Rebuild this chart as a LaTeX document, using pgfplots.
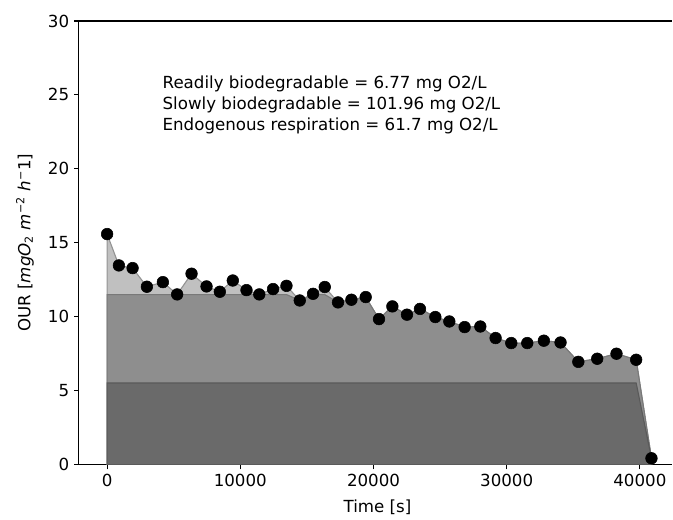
\documentclass[border=0pt]{standalone}
\usepackage{fontspec}
\setmainfont{DejaVu Sans}
\usepackage{pgfplots}
\usepackage{pgfplotstable}
\pgfplotsset{compat=1.18}
\definecolor{lightfill}{RGB}{192,192,192}
\definecolor{midfill}{RGB}{142,142,142}
\definecolor{darkfill}{RGB}{106,106,106}
\pgfplotstableread{
x y m d
0 15.59 11.5 5.52
885 13.47 11.5 5.52
1913 13.29 11.5 5.52
2986 12.03 11.5 5.52
4186 12.34 11.5 5.52
5259 11.51 11.5 5.52
6339 12.91 11.5 5.52
7464 12.05 11.5 5.52
8462 11.69 11.5 5.52
9437 12.45 11.5 5.52
10465 11.80 11.5 5.52
11425 11.51 11.5 5.52
12460 11.87 11.5 5.52
13466 12.09 11.5 5.52
14464 11.10 11.10 5.52
15462 11.55 11.5 5.52
16340 12.01 11.5 5.52
17337 10.97 10.97 5.52
18342 11.15 11.15 5.52
19415 11.33 11.33 5.52
20413 9.84 9.84 5.52
21418 10.70 10.70 5.52
22513 10.14 10.14 5.52
23489 10.53 10.53 5.52
24643 9.98 9.98 5.52
25694 9.68 9.68 5.52
26842 9.30 9.30 5.52
28020 9.34 9.34 5.52
29168 8.56 8.56 5.52
30345 8.22 8.22 5.52
31545 8.22 8.22 5.52
32791 8.38 8.38 5.52
34044 8.26 8.26 5.52
35379 6.95 6.95 5.52
36797 7.16 7.16 5.52
38244 7.50 7.50 5.52
39722 7.09 7.09 5.52
40870 0.43 0.43 0.43
}\datatable
\begin{document}
\begin{tikzpicture}
\begin{axis}[
  name=ax,
  scale only axis,
  width=427.7pt, height=319.7pt,
  xmin=-2116, xmax=42446,
  ymin=0, ymax=30,
  axis x line=box, axis y line=left,
  axis line style={line width=0.8pt, -},
  xtick={0,10000,20000,30000,40000},
  ytick={0,5,...,30},
  scaled x ticks=false,
  xticklabel style={/pgf/number format/.cd, fixed, 1000 sep={}},
  /pgf/number format/assume math mode=true,
  tick align=outside,
  xtick pos=left, ytick pos=left,
  major tick length=3.5pt,
  tick style={line width=0.8pt, black},
  tick label style={font=\fontsize{12}{14}\selectfont},
  every axis x label/.style={at={(axis description cs:0.503,-0.0968)}, anchor=center},
  every axis y label/.style={at={(axis description cs:-0.0909,0.5)}, rotate=90, anchor=center},
  label style={font=\fontsize{12}{14}\selectfont},
  xlabel={Time [s]},
  ylabel={OUR [\textit{mgO}\textsubscript{2} \textit{m}\textsuperscript{−2} \textit{h}\textsuperscript{−}1]},
  clip=true,
]
\addplot[fill=lightfill, draw=gray!85, line width=0.8pt] table[x=x, y=y] {\datatable} \closedcycle;
\addplot[fill=midfill, draw=gray!95!black, line width=0.8pt] table[x=x, y=m] {\datatable} \closedcycle;
\addplot[fill=darkfill, draw=darkfill!85!black, line width=0.8pt] table[x=x, y=d] {\datatable} \closedcycle;
\addplot[only marks, mark=*, mark size=4.2pt, black] table[x=x, y=y] {\datatable};
\node[anchor=base west, inner sep=0, font=\fontsize{12}{14}\selectfont] at (axis cs:4150,25.45) {Readily biodegradable = 6.77 mg O2/L};
\node[anchor=base west, inner sep=0, font=\fontsize{12}{14}\selectfont] at (axis cs:4150,24.03) {Slowly biodegradable = 101.96 mg O2/L};
\node[anchor=base west, inner sep=0, font=\fontsize{12}{14}\selectfont] at (axis cs:4150,22.59) {Endogenous respiration = 61.7 mg O2/L};
\end{axis}
\path ([xshift=-56.88pt,yshift=-38.16pt]ax.south west) rectangle ([yshift=15.12pt]ax.north east);
\end{tikzpicture}
\end{document}
